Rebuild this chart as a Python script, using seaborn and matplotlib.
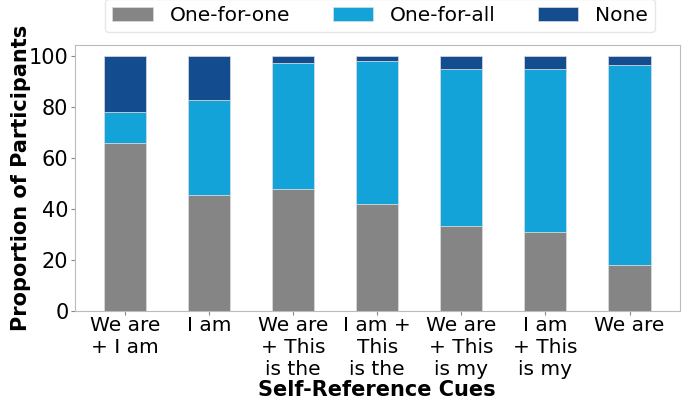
import matplotlib
matplotlib.use("Agg")
import matplotlib.pyplot as plt
import seaborn as sns
import numpy as np
import pandas as pd

categories = ["We are\n+ I am", "I am", "We are\n+ This\nis the", "I am +\nThis\nis the",
              "We are\n+ This\nis my", "I am\n+ This\nis my", "We are"]
one_for_one = [66, 45.5, 48, 42, 33.5, 31, 18]
one_for_all = [12, 37, 49, 56, 61.5, 64, 78.5]
none_vals = [22, 17.5, 3, 2, 5, 5, 3.5]
series_names = ["One-for-one", "One-for-all", "None"]
colors = ["#858585", "#14A3D8", "#134D8F"]

sns.set_style("white")
plt.rcParams['font.family'] = ['DejaVu Sans']
plt.rcParams['text.color'] = 'black'
plt.rcParams['axes.labelcolor'] = 'black'
plt.rcParams['xtick.color'] = 'black'
plt.rcParams['ytick.color'] = 'black'

fig, ax = plt.subplots(figsize=(6.91, 4.04), dpi=100)
fig.subplots_adjust(left=0.108, right=0.984, top=0.889, bottom=0.23)

bottom = np.zeros(len(categories))
for name, vals, col in zip(series_names, [one_for_one, one_for_all, none_vals], colors):
    df = pd.DataFrame({"cat": categories, "val": vals})
    sns.barplot(data=df, x="cat", y="val", order=categories, color=col, bottom=bottom,
                width=0.5, ax=ax, label=name, edgecolor="#dddddd", linewidth=0.5,
                saturation=1)
    bottom = bottom + np.array(vals)

ax.set_xlim(-0.6, 6.6)
ax.set_ylim(0, 104.3)
ax.set_yticks([0, 20, 40, 60, 80, 100])
ax.tick_params(axis='y', labelsize=15, length=3, pad=1.5, left=True, color="#888888")
ax.tick_params(axis='x', labelsize=14.5, length=3, pad=0.5, bottom=True, color="#888888")
ax.set_xlabel("Self-Reference Cues", fontsize=15, fontweight="bold", va="center")
ax.xaxis.set_label_coords(0.5, -0.297)
ax.set_ylabel("Proportion of Participants", fontsize=15, fontweight="bold", va="center")
ax.yaxis.set_label_coords(-0.088, 0.5)
for s in ax.spines.values():
    s.set_color("#bbbbbb")

ax.legend(loc="lower center", bbox_to_anchor=(0.505, 1.01), ncol=3, fontsize=14.5,
          frameon=True, edgecolor="#e0e0e0", handlelength=2.0, handleheight=0.65,
          handletextpad=0.85, columnspacing=2.1, borderpad=0.35)

fig.savefig("out.png", dpi=100)
